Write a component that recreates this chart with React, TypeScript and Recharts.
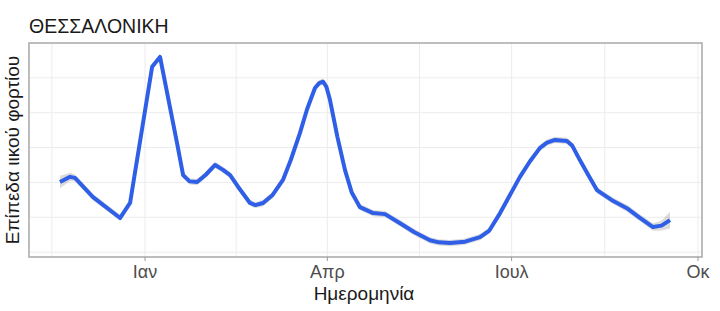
import React from 'react';
import {
  ComposedChart,
  Line,
  Area,
  XAxis,
  YAxis,
  CartesianGrid,
  ReferenceArea,
} from 'recharts';

// days from 1 Jan, viral load level (arbitrary units)
const days = [
  -42, -37, -34.6, -25.7, -12.3, -7.4, 3.5, 7.4, 15.8, 18.8, 22, 25.7, 30, 34.6, 38.5, 42,
  46, 51.8, 54.5, 58.3, 63, 68.1, 72, 76.5, 80, 83.9, 86, 87.9, 89.5, 91.3, 95, 98.7, 102,
  106.1, 112.6, 118.5, 125.9, 133, 140.7, 145, 150.6, 158, 165.4, 170, 175.3, 185.1, 190,
  195, 198.5, 202.4, 208.3, 211, 214.7, 218.5, 223.1, 230.5, 237.9, 244, 250.8, 255, 259.2,
];
const levels = [
  2.01, 2.16, 2.13, 1.58, 0.98, 1.41, 5.32, 5.6, 3.13, 2.21, 2.03, 2.01, 2.22, 2.5, 2.36, 2.21,
  1.87, 1.41, 1.35, 1.41, 1.64, 2.07, 2.65, 3.42, 4.1, 4.71, 4.85, 4.89, 4.75, 4.37, 3.3, 2.36, 1.72,
  1.29, 1.12, 1.09, 0.83, 0.57, 0.34, 0.28, 0.26, 0.3, 0.43, 0.62, 1.12, 2.16, 2.6,
  2.99, 3.14, 3.22, 3.19, 3.05, 2.64, 2.25, 1.78, 1.49, 1.26, 1.0, 0.72, 0.76, 0.92,
];
const bandHalf = [
  0.18, 0.12, 0.1, 0.09, 0.09, 0.09, 0.09, 0.09, 0.09, 0.09, 0.09, 0.09, 0.09, 0.09, 0.09, 0.09,
  0.09, 0.09, 0.09, 0.09, 0.09, 0.09, 0.09, 0.09, 0.09, 0.09, 0.09, 0.09, 0.09, 0.09, 0.09, 0.09, 0.09,
  0.09, 0.09, 0.09, 0.09, 0.09, 0.09, 0.09, 0.09, 0.09, 0.09, 0.09, 0.09, 0.09, 0.09,
  0.09, 0.09, 0.09, 0.09, 0.09, 0.09, 0.09, 0.09, 0.09, 0.1, 0.1, 0.11, 0.14, 0.24,
];

const monthTicks = [0, 90, 181, 273];
const monthLabels = ['Ιαν', 'Απρ', 'Ιουλ', 'Οκ'];
const minorTicks = [-46, 45, 135.5, 227];
const yGrid = [0, 1, 2, 3, 4, 5];

const data = days.map((d, i) => ({
  day: d,
  level: levels[i],
  band: [levels[i] - bandHalf[i], levels[i] + bandHalf[i]],
}));

const X_DOMAIN: [number, number] = [-57.3, 275];
const Y_DOMAIN: [number, number] = [-0.14, 6.0];
const font = '"Liberation Sans", Arial, sans-serif';

export default function App() {
  return (
    <div style={{ position: 'absolute', left: 0, top: 0, width: 720, height: 311, background: '#fff' }}>
      <ComposedChart
        width={720}
        height={311}
        data={data}
        margin={{ top: 43, right: 18, bottom: 24, left: 29 }}
      >
        <CartesianGrid
          stroke="#ececec"
          strokeWidth={1}
          verticalValues={[...minorTicks, ...monthTicks]}
          horizontalValues={yGrid}
        />
        <XAxis
          dataKey="day"
          type="number"
          domain={X_DOMAIN}
          ticks={monthTicks}
          tickFormatter={(v: number) => monthLabels[monthTicks.indexOf(v)] ?? ''}
          axisLine={false}
          tickLine={{ stroke: '#999' }}
          tickSize={4}
          tickMargin={4}
          height={30}
          allowDataOverflow
          interval={0}
          tick={{ fill: '#4d4d4d', fontSize: 18, fontFamily: font }}
        />
        <YAxis type="number" domain={Y_DOMAIN} hide allowDataOverflow />
        <ReferenceArea
          x1={X_DOMAIN[0]}
          x2={X_DOMAIN[1]}
          y1={Y_DOMAIN[0]}
          y2={Y_DOMAIN[1]}
          fill="none"
          stroke="#a8a8a8"
          strokeWidth={1.5}
          ifOverflow="visible"
        />
        <Area
          dataKey="band"
          type="linear"
          stroke="none"
          fill="#999999"
          fillOpacity={0.35}
          isAnimationActive={false}
          activeDot={false}
        />
        <Line
          dataKey="level"
          type="linear"
          stroke="#2f5fe6"
          strokeWidth={4}
          strokeLinejoin="round"
          dot={false}
          activeDot={false}
          isAnimationActive={false}
        />
      </ComposedChart>
      <svg
        width={720}
        height={311}
        style={{ position: 'absolute', left: 0, top: 0, pointerEvents: 'none' }}
      >
        <text x={29} y={33} fontSize={19.5} fontFamily={font} fill="#1a1a1a">
          ΘΕΣΣΑΛΟΝΙΚΗ
        </text>
        <text
          x={0}
          y={0}
          transform="translate(19,150) rotate(-90)"
          textAnchor="middle"
          fontSize={19}
          fontFamily={font}
          fill="#1a1a1a"
        >
          Επίπεδα ιικού φορτίου
        </text>
        <text x={364} y={300} textAnchor="middle" fontSize={19} fontFamily={font} fill="#1a1a1a">
          Ημερομηνία
        </text>
      </svg>
    </div>
  );
}
